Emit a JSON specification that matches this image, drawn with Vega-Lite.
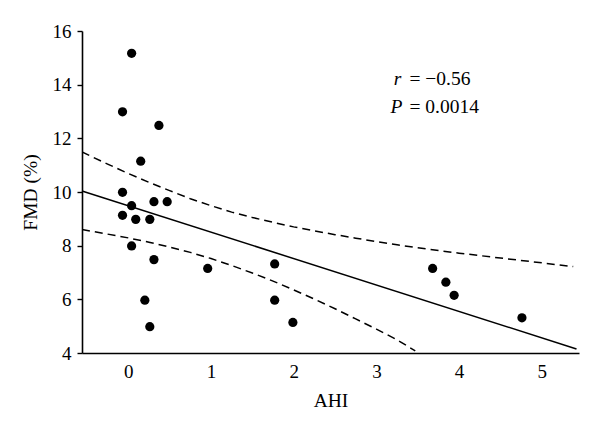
{
  "$schema": "https://vega.github.io/schema/vega-lite/v6.json",
  "width": 497,
  "height": 322,
  "autosize": "none",
  "padding": {"left": 82, "top": 31, "right": 21, "bottom": 79},
  "background": "white",
  "config": {
    "view": {"stroke": null},
    "font": "Liberation Serif",
    "axis": {
      "grid": false,
      "domainColor": "black",
      "domainWidth": 1.6,
      "tickColor": "black",
      "tickWidth": 1.4,
      "labelFont": "Liberation Serif",
      "labelFontSize": 19,
      "labelColor": "black",
      "titleFont": "Liberation Serif",
      "titleFontSize": 19.5,
      "titleFontWeight": "normal",
      "titleColor": "black"
    }
  },
  "datasets": {
    "points": [
      {"x": 0.04, "y": 15.17},
      {"x": -0.07, "y": 12.99},
      {"x": 0.37, "y": 12.48},
      {"x": 0.15, "y": 11.15},
      {"x": -0.07, "y": 9.99},
      {"x": 0.04, "y": 9.49},
      {"x": 0.31, "y": 9.64},
      {"x": 0.47, "y": 9.64},
      {"x": -0.07, "y": 9.13},
      {"x": 0.09, "y": 8.98},
      {"x": 0.26, "y": 8.98},
      {"x": 0.04, "y": 7.99},
      {"x": 0.31, "y": 7.48},
      {"x": 0.96, "y": 7.15},
      {"x": 0.2, "y": 5.97},
      {"x": 0.26, "y": 4.98},
      {"x": 1.77, "y": 7.32},
      {"x": 1.77, "y": 5.97},
      {"x": 1.99, "y": 5.14},
      {"x": 3.68, "y": 7.15},
      {"x": 3.84, "y": 6.64},
      {"x": 3.94, "y": 6.15},
      {"x": 4.76, "y": 5.31}
    ],
    "fit": [
      {"x": -0.56, "y": 10.04},
      {"x": 5.42, "y": 4.15}
    ],
    "bands": [
      {"curve": "upper", "x": -0.56, "y": 11.49},
      {"curve": "upper", "x": -0.25, "y": 11.04},
      {"curve": "upper", "x": 0, "y": 10.69},
      {"curve": "upper", "x": 0.25, "y": 10.36},
      {"curve": "upper", "x": 0.5, "y": 10.05},
      {"curve": "upper", "x": 0.75, "y": 9.75},
      {"curve": "upper", "x": 1.0, "y": 9.49},
      {"curve": "upper", "x": 1.25, "y": 9.25},
      {"curve": "upper", "x": 1.5, "y": 9.05},
      {"curve": "upper", "x": 1.75, "y": 8.87},
      {"curve": "upper", "x": 2.0, "y": 8.70},
      {"curve": "upper", "x": 2.25, "y": 8.55},
      {"curve": "upper", "x": 2.5, "y": 8.41},
      {"curve": "upper", "x": 2.75, "y": 8.28},
      {"curve": "upper", "x": 3.0, "y": 8.15},
      {"curve": "upper", "x": 3.25, "y": 8.03},
      {"curve": "upper", "x": 3.5, "y": 7.92},
      {"curve": "upper", "x": 4.0, "y": 7.72},
      {"curve": "upper", "x": 4.5, "y": 7.54},
      {"curve": "upper", "x": 5.0, "y": 7.36},
      {"curve": "upper", "x": 5.38, "y": 7.22},
      {"curve": "lower", "x": -0.56, "y": 8.60},
      {"curve": "lower", "x": -0.25, "y": 8.43},
      {"curve": "lower", "x": 0, "y": 8.29},
      {"curve": "lower", "x": 0.25, "y": 8.13},
      {"curve": "lower", "x": 0.5, "y": 7.95},
      {"curve": "lower", "x": 0.75, "y": 7.75},
      {"curve": "lower", "x": 1.0, "y": 7.52},
      {"curve": "lower", "x": 1.25, "y": 7.26},
      {"curve": "lower", "x": 1.5, "y": 6.98},
      {"curve": "lower", "x": 1.75, "y": 6.68},
      {"curve": "lower", "x": 2.0, "y": 6.35},
      {"curve": "lower", "x": 2.25, "y": 6.01},
      {"curve": "lower", "x": 2.5, "y": 5.65},
      {"curve": "lower", "x": 2.75, "y": 5.27},
      {"curve": "lower", "x": 3.0, "y": 4.89},
      {"curve": "lower", "x": 3.25, "y": 4.49},
      {"curve": "lower", "x": 3.47, "y": 4.08}
    ],
    "labels": [
      {"x": 3.21, "y": 13.99, "sym": "r", "rest": "= −0.56"},
      {"x": 3.17, "y": 12.94, "sym": "P", "rest": "= 0.0014"}
    ]
  },
  "encoding": {
    "x": {
      "field": "x",
      "type": "quantitative",
      "scale": {"domain": [-0.56, 5.45], "nice": false, "zero": false},
      "axis": {
        "title": "AHI",
        "values": [0, 1, 2, 3, 4, 5],
        "ticks": false,
        "labelPadding": 9,
        "titlePadding": 10
      }
    },
    "y": {
      "field": "y",
      "type": "quantitative",
      "scale": {"domain": [4, 16], "nice": false, "zero": false},
      "axis": {
        "title": "FMD (%)",
        "values": [4, 6, 8, 10, 12, 14, 16],
        "ticks": true,
        "tickSize": 5,
        "labelPadding": 6,
        "titlePadding": 12
      }
    }
  },
  "layer": [
    {
      "data": {"name": "bands"},
      "mark": {"type": "line", "color": "black", "strokeWidth": 1.5, "strokeDash": [8, 5], "clip": true},
      "encoding": {"detail": {"field": "curve"}}
    },
    {
      "data": {"name": "fit"},
      "mark": {"type": "line", "color": "black", "strokeWidth": 1.5},
      "encoding": {}
    },
    {
      "data": {"name": "points"},
      "mark": {"type": "circle", "color": "black", "opacity": 1, "size": 85}
    },
    {
      "data": {"name": "labels"},
      "mark": {"type": "text", "align": "left", "baseline": "alphabetic", "fontSize": 19.5, "fontStyle": "italic", "font": "Liberation Serif", "color": "black"},
      "encoding": {"text": {"field": "sym"}}
    },
    {
      "data": {"name": "labels"},
      "mark": {"type": "text", "align": "left", "baseline": "alphabetic", "fontSize": 19.5, "font": "Liberation Serif", "color": "black"},
      "encoding": {
        "x": {"datum": 3.40, "type": "quantitative"},
        "text": {"field": "rest"}
      }
    }
  ]
}
